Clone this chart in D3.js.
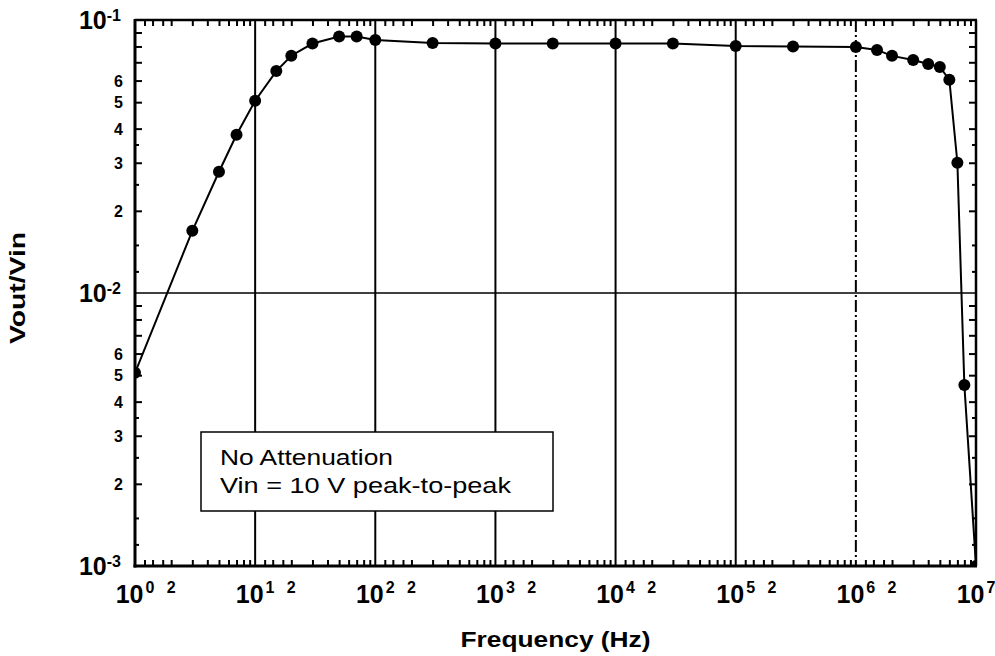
<!DOCTYPE html>
<html>
<head>
<meta charset="utf-8">
<script src="https://cdn.jsdelivr.net/npm/d3@7"></script>
<style>
  html, body { margin: 0; padding: 0; background: #fff; }
  svg { display: block; }
  text { font-family: "Liberation Sans", Arial, Helvetica, sans-serif; fill: #000; }
</style>
</head>
<body>
<svg id="chart" width="995" height="656"></svg>
<script>
// Measured frequency response, no attenuation, Vin = 10 V peak-to-peak
const frequencyHz = [1, 3, 5, 7, 10, 15, 20, 30, 50, 70, 100, 300, 1e3, 3e3, 1e4, 3e4,
                     1e5, 3e5, 1e6, 1.5e6, 2e6, 3e6, 4e6, 5e6, 6e6, 7e6, 8e6, 1e7];
const voutOverVin = [0.0051, 0.0169, 0.0278, 0.038, 0.0506, 0.065, 0.074, 0.082, 0.087, 0.087,
                     0.0845, 0.0824, 0.082, 0.082, 0.082, 0.082, 0.0803, 0.080, 0.0796, 0.0777,
                     0.0739, 0.0714, 0.069, 0.0673, 0.0604, 0.030, 0.0046, 0.001];

// Axis decades and tick labels
const xDecades = [0, 1, 2, 3, 4, 5, 6, 7];
const yDecades = [-3, -2, -1];
const yMantissaLabels = [2, 3, 4, 5, 6];
const xMinorMultiples = [1.2, 1.4, 1.7, 2, 3, 4, 5, 6, 7, 8, 9];
const yMinorMultiples = [2, 3, 4, 5, 6, 7, 8, 9];
const yHalfMultiples = [1.2, 1.5, 2.5, 3.5];
const legendLines = ["No Attenuation", "Vin = 10 V peak-to-peak"];

const svg = d3.select("#chart");
const L = 135, R = 976, T = 20, B = 566;

const x = d3.scaleLog().domain([1, 1e7]).range([L, R]);
const y = d3.scaleLog().domain([1e-3, 1e-1]).range([B, T]);

const xMinor = d3.merge(xDecades.slice(0, -1).map(d => xMinorMultiples.map(m => m * Math.pow(10, d))));
const yMinor = d3.merge(yDecades.slice(0, -1).map(d => yMinorMultiples.map(m => m * Math.pow(10, d))));
const yHalf = d3.merge(yDecades.slice(0, -1).map(d => yHalfMultiples.map(m => m * Math.pow(10, d))));

// Vertical grid lines at each inner decade; the 10^6 line is dash-dotted
svg.append("g").selectAll("line")
  .data(xDecades.slice(1, -1))
  .join("line")
  .attr("x1", d => x(Math.pow(10, d))).attr("x2", d => x(Math.pow(10, d)))
  .attr("y1", T).attr("y2", B)
  .attr("stroke", "#000")
  .attr("stroke-width", 2)
  .attr("stroke-dasharray", d => d === 6 ? "12,3,2,3" : null);

// Horizontal grid line at 10^-2
svg.append("line")
  .attr("x1", L).attr("x2", R)
  .attr("y1", y(1e-2)).attr("y2", y(1e-2))
  .attr("stroke", "#000").attr("stroke-width", 1.5);

// Inward minor ticks on all four sides
function ticks(axis, values, size, transform) {
  const g = svg.append("g").attr("transform", transform)
    .call(axis.tickValues(values).tickSize(-size).tickFormat(""));
  g.select(".domain").remove();
  g.selectAll(".tick line").attr("stroke", "#000").attr("stroke-width", 2);
}
ticks(d3.axisBottom(x), xMinor, 6, `translate(0,${B})`);
ticks(d3.axisTop(x), xMinor, 6, `translate(0,${T})`);
ticks(d3.axisLeft(y), yMinor, 7, `translate(${L},0)`);
ticks(d3.axisLeft(y), yHalf, 4, `translate(${L},0)`);
ticks(d3.axisRight(y), yMinor, 7, `translate(${R},0)`);
ticks(d3.axisRight(y), yHalf, 4, `translate(${R},0)`);

// Legend box (white, interrupting the grid)
const lg = svg.append("g");
lg.append("rect")
  .attr("x", 201).attr("y", 432).attr("width", 352).attr("height", 79)
  .attr("fill", "#fff").attr("stroke", "#000").attr("stroke-width", 1.5);
lg.selectAll("text").data(legendLines).join("text")
  .attr("x", 220)
  .attr("y", (d, i) => 465 + i * 28)
  .attr("font-size", 22)
  .attr("textLength", (d, i) => i === 0 ? 173 : 291)
  .attr("lengthAdjust", "spacingAndGlyphs")
  .text(d => d);

// Data line and markers, clipped to the plot frame
svg.append("clipPath").attr("id", "plotClip")
  .append("rect").attr("x", L).attr("y", T).attr("width", R - L).attr("height", B - T);

const pts = frequencyHz.map((f, i) => [f, voutOverVin[i]]);
const plot = svg.append("g").attr("clip-path", "url(#plotClip)");
plot.append("path")
  .datum(pts)
  .attr("fill", "none").attr("stroke", "#000").attr("stroke-width", 2)
  .attr("d", d3.line().x(d => x(d[0])).y(d => y(d[1])));
plot.selectAll("circle").data(pts).join("circle")
  .attr("cx", d => x(d[0])).attr("cy", d => y(d[1]))
  .attr("r", 6).attr("fill", "#000");

// Plot frame
svg.append("line").attr("x1", L).attr("x2", L).attr("y1", T - 1).attr("y2", B + 1.5)
  .attr("stroke", "#000").attr("stroke-width", 3);
svg.append("line").attr("x1", L - 1.5).attr("x2", R + 1).attr("y1", B).attr("y2", B)
  .attr("stroke", "#000").attr("stroke-width", 3);
svg.append("line").attr("x1", L).attr("x2", R + 1).attr("y1", T).attr("y2", T)
  .attr("stroke", "#000").attr("stroke-width", 2.5);
svg.append("line").attr("x1", R).attr("x2", R).attr("y1", T).attr("y2", B)
  .attr("stroke", "#000").attr("stroke-width", 2.5);

// X tick labels: 10^n at each decade, "2" at 2·10^n
const xl = svg.append("g").attr("font-weight", "bold");
xDecades.forEach(d => {
  const t = xl.append("text")
    .attr("x", x(Math.pow(10, d)))
    .attr("y", 603)
    .attr("text-anchor", "middle");
  t.append("tspan").attr("font-size", 25).text("10");
  t.append("tspan").attr("font-size", 16).attr("dy", -10).attr("dx", 2).text(String(d));
  if (d < 7) {
    xl.append("text")
      .attr("x", x(2 * Math.pow(10, d)))
      .attr("y", 593)
      .attr("text-anchor", "middle")
      .attr("font-size", 16)
      .text("2");
  }
});

// Y tick labels: 10^n at each decade, mantissas 2..6 within
const yl = svg.append("g").attr("font-weight", "bold");
yDecades.forEach(d => {
  const t = yl.append("text")
    .attr("x", 121)
    .attr("y", y(Math.pow(10, d)) + 9)
    .attr("text-anchor", "end");
  t.append("tspan").attr("font-size", 25).text("10");
  t.append("tspan").attr("font-size", 16).attr("dy", -8).text(String(d));
});
yDecades.slice(0, -1).forEach(d => {
  yMantissaLabels.forEach(m => {
    yl.append("text")
      .attr("x", 123)
      .attr("y", y(m * Math.pow(10, d)) + 6)
      .attr("text-anchor", "end")
      .attr("font-size", 16)
      .text(String(m));
  });
});

// Axis titles
svg.append("text")
  .attr("x", (L + R) / 2).attr("y", 647)
  .attr("text-anchor", "middle")
  .attr("font-size", 22).attr("font-weight", "bold")
  .attr("textLength", 190).attr("lengthAdjust", "spacingAndGlyphs")
  .text("Frequency (Hz)");
svg.append("text")
  .attr("transform", `translate(25,${(T + B) / 2 - 5}) rotate(-90)`)
  .attr("text-anchor", "middle")
  .attr("font-size", 22).attr("font-weight", "bold")
  .attr("textLength", 112).attr("lengthAdjust", "spacingAndGlyphs")
  .text("Vout/Vin");
</script>
</body>
</html>
